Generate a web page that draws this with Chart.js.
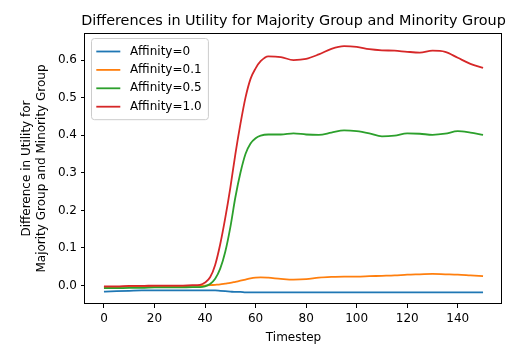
<!DOCTYPE html>
<html>
<head>
<meta charset="utf-8">
<script src="https://cdn.jsdelivr.net/npm/chart.js@4/dist/chart.umd.min.js"></script>
<style>
  html, body { margin: 0; padding: 0; background: #fff; }
  canvas { display: block; }
</style>
</head>
<body>
<canvas id="c" width="526" height="355"></canvas>
<script>
const timesteps = [0,5,10,15,20,25,30,35,38,40,42,44,46,48,50,52,54,56,58,60,62,65,70,75,80,85,90,95,100,105,110,115,120,125,130,135,140,145,150];

const affinity0 = [-0.016,-0.015,-0.014,-0.013,-0.013,-0.013,-0.013,-0.013,
  -0.013,-0.013,-0.013,-0.013,-0.014,-0.015,-0.016,-0.017,-0.017,-0.018,-0.018,-0.018,-0.018,-0.018,
  -0.018,-0.018,-0.018,-0.018,-0.018,-0.018,-0.018,-0.018,-0.018,-0.018,-0.018,-0.018,-0.018,-0.018,-0.018,-0.018,-0.018];

const affinity01 = [-0.004,-0.004,-0.003,-0.003,-0.002,-0.002,-0.002,-0.001,
  -0.001,0.0,0.001,0.002,0.003,0.005,0.007,0.010,0.013,0.016,0.019,0.021,0.022,0.021,
  0.018,0.016,0.017,0.021,0.023,0.024,0.024,0.025,0.026,0.027,0.029,0.030,0.031,0.030,0.029,0.027,0.025];

const affinity05 = [-0.007,-0.007,-0.006,-0.006,-0.005,-0.005,-0.005,-0.004,
  -0.004,-0.002,0.004,0.018,0.045,0.090,0.155,0.235,0.300,0.350,0.378,0.392,0.399,0.402,
  0.402,0.405,0.402,0.401,0.407,0.413,0.411,0.405,0.397,0.399,0.405,0.404,0.401,0.404,0.411,0.407,0.401];

const affinity10 = [-0.002,-0.002,-0.001,-0.001,0.0,0.0,0.0,0.001,
  0.002,0.008,0.022,0.055,0.110,0.180,0.260,0.350,0.430,0.500,0.550,0.578,0.597,0.610,
  0.608,0.600,0.603,0.615,0.630,0.637,0.635,0.629,0.626,0.625,0.622,0.620,0.625,0.622,0.606,0.590,0.579];

const seriesLabels = ['Affinity=0', 'Affinity=0.1', 'Affinity=0.5', 'Affinity=1.0'];
const seriesColors = ['#1f77b4', '#ff7f0e', '#2ca02c', '#d62728'];
const seriesValues = [affinity0, affinity01, affinity05, affinity10];

const xTicks = [0, 20, 40, 60, 80, 100, 120, 140];
const yTicks = [0.0, 0.1, 0.2, 0.3, 0.4, 0.5, 0.6];

const titleText = 'Differences in Utility for Majority Group and Minority Group';
const xTitle = 'Timestep';
const yTitle = ['Difference in Utility for', 'Majority Group and Minority Group'];

const FONT = "'DejaVu Sans', sans-serif";

const framePlugin = {
  id: 'frame',
  afterDatasetsDraw(chart) {
    const {ctx, chartArea: a} = chart;
    ctx.save();
    ctx.strokeStyle = '#000';
    ctx.lineWidth = 1;
    ctx.strokeRect(Math.round(a.left) - 0.5, Math.round(a.top) + 0.5, Math.round(a.right - a.left), Math.round(a.bottom - a.top) - 1);
    ctx.restore();
  }
};

const titlePlugin = {
  id: 'mplTitle',
  afterDraw(chart) {
    const {ctx, chartArea: a} = chart;
    ctx.save();
    ctx.font = '14.4px ' + FONT;
    ctx.fillStyle = '#000';
    ctx.textAlign = 'center';
    ctx.textBaseline = 'alphabetic';
    ctx.fillText(titleText, (a.left + a.right) / 2, a.top - 8);
    ctx.restore();
  }
};

const legendPlugin = {
  id: 'mplLegend',
  afterDraw(chart) {
    const {ctx, chartArea: a} = chart;
    ctx.save();
    ctx.font = '12px ' + FONT;
    const fs = 12;
    const rowH = 18.4;
    let maxW = 0;
    seriesLabels.forEach(t => { maxW = Math.max(maxW, ctx.measureText(t).width); });
    const x0 = a.left + 6.5;
    const y0 = a.top + 5.5;
    const w = 0.4 * fs + 2 * fs + 0.8 * fs + maxW + 0.4 * fs + 2;
    const h = 0.4 * fs * 2 + rowH * seriesLabels.length - 2;
    const r = 3;
    ctx.beginPath();
    ctx.moveTo(x0 + r, y0);
    ctx.lineTo(x0 + w - r, y0);
    ctx.arcTo(x0 + w, y0, x0 + w, y0 + r, r);
    ctx.lineTo(x0 + w, y0 + h - r);
    ctx.arcTo(x0 + w, y0 + h, x0 + w - r, y0 + h, r);
    ctx.lineTo(x0 + r, y0 + h);
    ctx.arcTo(x0, y0 + h, x0, y0 + h - r, r);
    ctx.lineTo(x0, y0 + r);
    ctx.arcTo(x0, y0, x0 + r, y0, r);
    ctx.closePath();
    ctx.fillStyle = 'rgba(255,255,255,0.8)';
    ctx.fill();
    ctx.strokeStyle = '#cccccc';
    ctx.lineWidth = 1;
    ctx.stroke();
    seriesLabels.forEach((t, i) => {
      const cy = y0 + 0.4 * fs + rowH * i + rowH / 2 - 1;
      ctx.beginPath();
      ctx.strokeStyle = seriesColors[i];
      ctx.lineWidth = 1.8;
      ctx.moveTo(x0 + 0.4 * fs, cy);
      ctx.lineTo(x0 + 0.4 * fs + 2 * fs, cy);
      ctx.stroke();
      ctx.fillStyle = '#000';
      ctx.textAlign = 'left';
      ctx.textBaseline = 'middle';
      ctx.fillText(t, x0 + 0.4 * fs + 2 * fs + 0.8 * fs, cy);
    });
    ctx.restore();
  }
};

const datasets = seriesValues.map((vals, i) => ({
  label: seriesLabels[i],
  data: timesteps.map((t, j) => ({x: t, y: vals[j]})),
  borderColor: seriesColors[i],
  backgroundColor: seriesColors[i],
  borderWidth: 1.8,
  pointRadius: 0,
  fill: false,
  cubicInterpolationMode: 'monotone',
  order: seriesLabels.length - 1 - i
}));

new Chart(document.getElementById('c'), {
  type: 'line',
  data: { datasets },
  options: {
    responsive: false,
    animation: false,
    devicePixelRatio: 1,
    layout: { padding: { left: 0, right: 24, top: 33, bottom: 0 } },
    plugins: {
      legend: { display: false },
      title: { display: false },
      tooltip: { enabled: false }
    },
    scales: {
      x: {
        type: 'linear',
        min: -7.5,
        max: 157.5,
        afterBuildTicks(scale) { scale.ticks = xTicks.map(v => ({value: v})); },
        afterFit(scale) { scale.height = 51; },
        grid: { drawOnChartArea: false, drawTicks: true, tickLength: 4, color: '#000', lineWidth: 1 },
        border: { display: false },
        ticks: {
          color: '#000',
          font: { family: FONT, size: 12 },
          padding: 4,
          maxRotation: 0,
          autoSkip: false,
          callback: v => String(v)
        },
        title: {
          display: true,
          text: xTitle,
          color: '#000',
          font: { family: FONT, size: 12 },
          padding: { top: 0, bottom: 10 }
        }
      },
      y: {
        type: 'linear',
        min: -0.049,
        max: 0.672,
        afterBuildTicks(scale) { scale.ticks = yTicks.map(v => ({value: v})); },
        afterFit(scale) { scale.width = 85; },
        grid: { drawOnChartArea: false, drawTicks: true, tickLength: 4, color: '#000', lineWidth: 1 },
        border: { display: false },
        ticks: {
          color: '#000',
          font: { family: FONT, size: 12 },
          padding: 4,
          autoSkip: false,
          callback: v => Number(v).toFixed(1)
        },
        title: {
          display: true,
          text: yTitle,
          color: '#000',
          font: { family: FONT, size: 12 },
          padding: { top: 20, bottom: 0 }
        }
      }
    }
  },
  plugins: [framePlugin, titlePlugin, legendPlugin]
});
</script>
</body>
</html>
